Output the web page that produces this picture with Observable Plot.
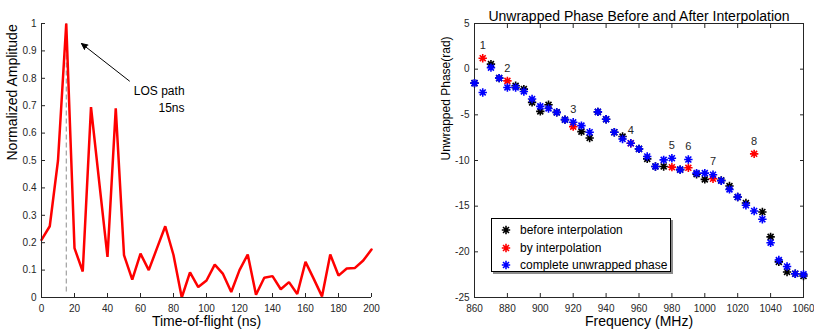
<!DOCTYPE html>
<html><head><meta charset="utf-8">
<script src="https://cdn.jsdelivr.net/npm/d3@7"></script>
<script src="https://cdn.jsdelivr.net/npm/@observablehq/plot@0.6"></script>
<style>
body{margin:0;background:#fff;font-family:"Liberation Sans",Arial,sans-serif;}
#wrap{position:relative;width:814px;height:333px;overflow:hidden;}
#left{position:absolute;left:0;top:0;}
#right{position:absolute;left:400px;top:0;}
#legend{position:absolute;left:491px;top:218px;width:180px;height:54px;box-sizing:border-box;border:1px solid #000;background:#fff;box-shadow:2px 2px 0 #8c8c8c;font-size:12px;color:#000;}
#legend .row{position:absolute;left:0;height:16px;line-height:16px;white-space:nowrap;}
#legend svg{position:absolute;left:8px;top:2px;}
#legend span{position:absolute;left:28px;top:0;}
</style></head><body>
<div id="wrap"><div id="left"></div><div id="right"></div><div id="legend"></div></div>
<script>
// ---------- left panel data ----------
const tof = [0,5,10,15,20,25,30,35,40,45,50,55,60,65,70,75,80,85,90,95,100,105,110,115,120,125,130,135,140,145,150,155,160,165,170,175,180,185,190,195,200];
const amplitude = [0.21,0.26,0.50,1.00,0.18,0.095,0.695,0.42,0.148,0.69,0.155,0.065,0.16,0.10,0.18,0.26,0.155,0.0,0.092,0.038,0.062,0.12,0.086,0.02,0.10,0.157,0.01,0.072,0.078,0.03,0.056,0.013,0.13,0.068,0.004,0.157,0.08,0.106,0.108,0.135,0.175];
const losTime = [15];
const losSpan = [0.02, 1];
const arrowFrom = [53.3, 0.79];
const arrowTo = [24.2, 0.927];
const losText = ["LOS path\n15ns"];
const losTextPos = [86.7, 0.728];
const xTicksLeft = [0,20,40,60,80,100,120,140,160,180,200];
const yTicksLeft = [0,0.1,0.2,0.3,0.4,0.5,0.6,0.7,0.8,0.9,1];

// ---------- right panel data ----------
const freq = [860,865,870,875,880,885,890,895,900,905,910,915,920,925,930,935,940,945,950,955,960,965,970,975,980,985,990,995,1000,1005,1010,1015,1020,1025,1030,1035,1040,1045,1050,1055,1060];
const completePhase = [-1.53,-2.55,0.17,-0.98,-2.0,-2.0,-2.44,-3.27,-4.07,-4.3,-4.73,-5.53,-5.82,-6.18,-6.91,-4.68,-5.48,-6.91,-7.64,-8.11,-8.73,-9.56,-10.65,-9.93,-9.75,-11.0,-9.89,-11.38,-11.38,-11.56,-12.22,-13.16,-14.0,-14.9,-15.53,-16.43,-19.0,-20.9,-21.6,-22.4,-22.47];
const beforeFreq = [860,870,875,885,890,895,900,905,910,915,925,930,935,940,945,950,960,965,970,975,985,995,1000,1010,1015,1020,1025,1035,1040,1045,1050,1055,1060];
const beforePhase = [-1.53,0.55,-0.98,-1.82,-2.18,-3.64,-4.62,-3.9,-4.73,-5.53,-6.84,-7.53,-4.68,-5.48,-6.91,-7.38,-8.73,-9.82,-10.65,-10.65,-11.0,-11.5,-12.07,-12.18,-12.8,-14.0,-14.66,-15.64,-18.36,-21.1,-22.2,-22.4,-22.65];
const interpFreq = [865,880,920,955,980,990,1005,1030];
const interpPhase = [1.2,-1.28,-6.29,-8.11,-10.73,-10.8,-12.0,-9.27];
const interpLabels = ["1","2","3","4","5","6","7","8"];
const xTicksRight = [860,880,900,920,940,960,980,1000,1020,1040,1060];
const yTicksRight = [-25,-20,-15,-10,-5,0,5];
const legendLabels = ["before interpolation","by interpolation","complete unwrapped phase"];
const seriesColors = ["#000000","#ff0000","#0000ff"];

// 8-armed asterisk marker (MATLAB "*")
const asterisk8 = {draw(ctx, size) {
  const r = Math.sqrt(size / Math.PI);
  for (let i = 0; i < 4; i++) {
    const a = i * Math.PI / 4, c = r * Math.cos(a), s = r * Math.sin(a);
    ctx.moveTo(c, s); ctx.lineTo(-c, -s);
  }
}};

const font = "Liberation Sans, Arial, sans-serif";
const axisColor = "#262626";

const left = Plot.plot({
  width: 400, height: 333,
  marginLeft: 41, marginRight: 29, marginTop: 23, marginBottom: 36,
  style: {fontFamily: font, fontSize: "10px", color: axisColor, background: "white", overflow: "visible"},
  x: {domain: [0, 200]},
  y: {domain: [0, 1]},
  marks: [
    Plot.ruleX(losTime, {x: d => d, y1: losSpan[0], y2: losSpan[1], stroke: "#8c8c8c", strokeWidth: 1, strokeDasharray: "5,3"}),
    Plot.line(tof, {x: d => d, y: (d, i) => amplitude[i], stroke: "#ff0000", strokeWidth: 2.5, strokeLinejoin: "miter"}),
    Plot.ruleX([0], {stroke: axisColor}),
    Plot.ruleY([0], {stroke: axisColor}),
    Plot.axisX({ticks: xTicksLeft, tickSize: -4, tickPadding: 11, tickFormat: d => String(d), label: null}),
    Plot.axisY({ticks: yTicksLeft, tickSize: -4, tickPadding: 9, tickFormat: d => String(+d.toFixed(1)), label: null}),
    Plot.arrow([0], {x1: arrowFrom[0], y1: arrowFrom[1], x2: arrowTo[0], y2: arrowTo[1], stroke: "black", fill: "black", strokeWidth: 1, headLength: 10, headAngle: 50, strokeLinejoin: "miter"}),
    Plot.text(losText, {x: losTextPos[0], y: losTextPos[1], text: d => d, textAnchor: "end", lineAnchor: "middle", lineHeight: 1.4, fontSize: 12, fill: "#000"}),
    Plot.text(["Time-of-flight (ns)"], {frameAnchor: "bottom", dy: 28, text: d => d, fontSize: 14, fill: "#000"}),
    Plot.text(["Normalized Amplitude"], {frameAnchor: "left", dx: -29, rotate: -90, text: d => d, fontSize: 14, fill: "#000"})
  ]
});
document.getElementById("left").append(left);

const dotOpts = (color) => ({symbol: asterisk8, r: 4.2, fill: "none", stroke: color, strokeWidth: 1.6});

const right = Plot.plot({
  width: 414, height: 333,
  marginLeft: 74, marginRight: 11, marginTop: 23, marginBottom: 36,
  style: {fontFamily: font, fontSize: "10px", color: axisColor, background: "white", overflow: "visible"},
  x: {domain: [860, 1060]},
  y: {domain: [-25, 5]},
  marks: [
    Plot.frame({stroke: axisColor}),
    Plot.axisX({ticks: xTicksRight, tickSize: -4, tickPadding: 11, tickFormat: d => String(d), label: null}),
    Plot.axisX({anchor: "top", ticks: xTicksRight, tickSize: -4, tickFormat: () => "", label: null}),
    Plot.axisY({ticks: yTicksRight, tickSize: -4, tickPadding: 9, tickFormat: d => String(d), label: null}),
    Plot.axisY({anchor: "right", ticks: yTicksRight, tickSize: -4, tickFormat: () => "", label: null}),
    Plot.dot(beforeFreq, {x: d => d, y: (d, i) => beforePhase[i], ...dotOpts(seriesColors[0])}),
    Plot.dot(interpFreq, {x: d => d, y: (d, i) => interpPhase[i], ...dotOpts(seriesColors[1])}),
    Plot.dot(freq, {x: d => d, y: (d, i) => completePhase[i], ...dotOpts(seriesColors[2])}),
    Plot.text(interpFreq, {x: d => d, y: (d, i) => Math.max(interpPhase[i], completePhase[freq.indexOf(d)]) + 1.4, text: (d, i) => interpLabels[i], fontSize: 11, fill: "#262626"}),
    Plot.text(["Unwrapped Phase Before and After Interpolation"], {frameAnchor: "top", dy: -12, text: d => d, fontSize: 14, fill: "#000"}),
    Plot.text(["Frequency (MHz)"], {frameAnchor: "bottom", dy: 28, text: d => d, fontSize: 14, fill: "#000"}),
    Plot.text(["Unwrapped Phase(rad)"], {frameAnchor: "left", dx: -28, rotate: -90, text: d => d, fontSize: 12, fill: "#000"})
  ]
});
document.getElementById("right").append(right);

// legend
const legend = document.getElementById("legend");
const ns = "http://www.w3.org/2000/svg";
legendLabels.forEach((label, i) => {
  const row = document.createElement("div");
  row.className = "row";
  row.style.top = (3 + i * 17.5) + "px";
  row.style.width = "100%";
  const svg = document.createElementNS(ns, "svg");
  svg.setAttribute("width", "12"); svg.setAttribute("height", "12");
  const path = document.createElementNS(ns, "path");
  const r = 4.2, parts = [];
  for (let k = 0; k < 4; k++) {
    const a = k * Math.PI / 4, c = r * Math.cos(a), s = r * Math.sin(a);
    parts.push(`M${6 + c},${6 + s}L${6 - c},${6 - s}`);
  }
  path.setAttribute("d", parts.join(""));
  path.setAttribute("stroke", seriesColors[i]);
  path.setAttribute("stroke-width", "1.6");
  path.setAttribute("fill", "none");
  svg.append(path);
  const span = document.createElement("span");
  span.textContent = label;
  row.append(svg, span);
  legend.append(row);
});
</script>
</body></html>
